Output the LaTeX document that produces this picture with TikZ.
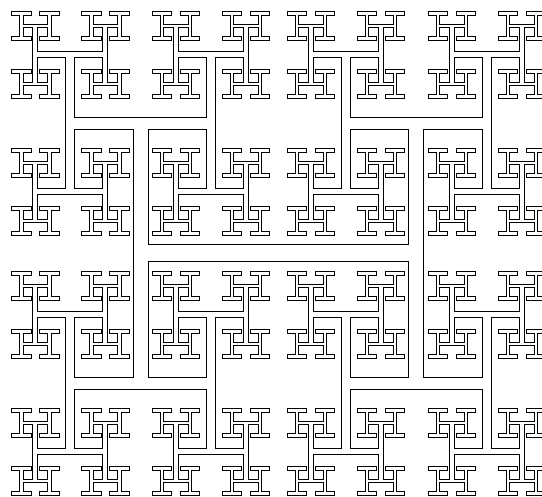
\documentclass[tikz,border=0pt]{standalone}
\usepackage{tikz}
\usetikzlibrary{calc}
\definecolor{Ink}{HTML}{000000}
\definecolor{Paper}{HTML}{FFFFFF}

\newcommand{\HLengths}{275.7,260,140.6,137,70,58,28,25,16}
\newcommand{\HWidths}{16,14,11,8,5,4,2.4,2.4,2.4}
\newcommand{\HDepth}{9}

\newcommand{\HSegment}[4]{%
  \ifnum#3<\HDepth\relax
  \begingroup
    \edef\hx{#1}\edef\hy{#2}%
    \pgfmathsetmacro\hhalf{{\HLengths}[#3]/2}%
    \pgfmathsetmacro\hwd{{\HWidths}[#3]}%
    \pgfmathsetmacro\hwdout{\hwd+2}%
    \ifodd#3\relax
      \pgfmathsetmacro\hax{\hx}\pgfmathsetmacro\hay{\hy-\hhalf}%
      \pgfmathsetmacro\hbx{\hx}\pgfmathsetmacro\hby{\hy+\hhalf}%
    \else
      \pgfmathsetmacro\hax{\hx-\hhalf}\pgfmathsetmacro\hay{\hy}%
      \pgfmathsetmacro\hbx{\hx+\hhalf}\pgfmathsetmacro\hby{\hy}%
    \fi
    \ifnum#3=\numexpr\HDepth-1\relax \def\hcap{rect}\else\def\hcap{butt}\fi
    \ifnum#4=0
      \draw[Ink, line cap=\hcap, line width=\hwdout pt] (\hax,\hay) -- (\hbx,\hby);
    \else
      \draw[Paper, line cap=\hcap, line width=\hwd pt] (\hax,\hay) -- (\hbx,\hby);
    \fi
    \pgfmathtruncatemacro\hnext{#3+1}%
    \edef\hrecurse{\noexpand\HSegment{\hax}{\hay}{\hnext}{#4}%
      \noexpand\HSegment{\hbx}{\hby}{\hnext}{#4}}%
    \hrecurse
  \endgroup
  \fi}

\begin{document}
\begin{tikzpicture}[x=1pt, y=-1pt]
  \useasboundingbox (0,0) rectangle (542,497);
  \clip (0,0) rectangle (542,497);
  \HSegment{278.6}{253.5}{0}{0}
  \HSegment{278.6}{253.5}{0}{1}
\end{tikzpicture}
\end{document}
